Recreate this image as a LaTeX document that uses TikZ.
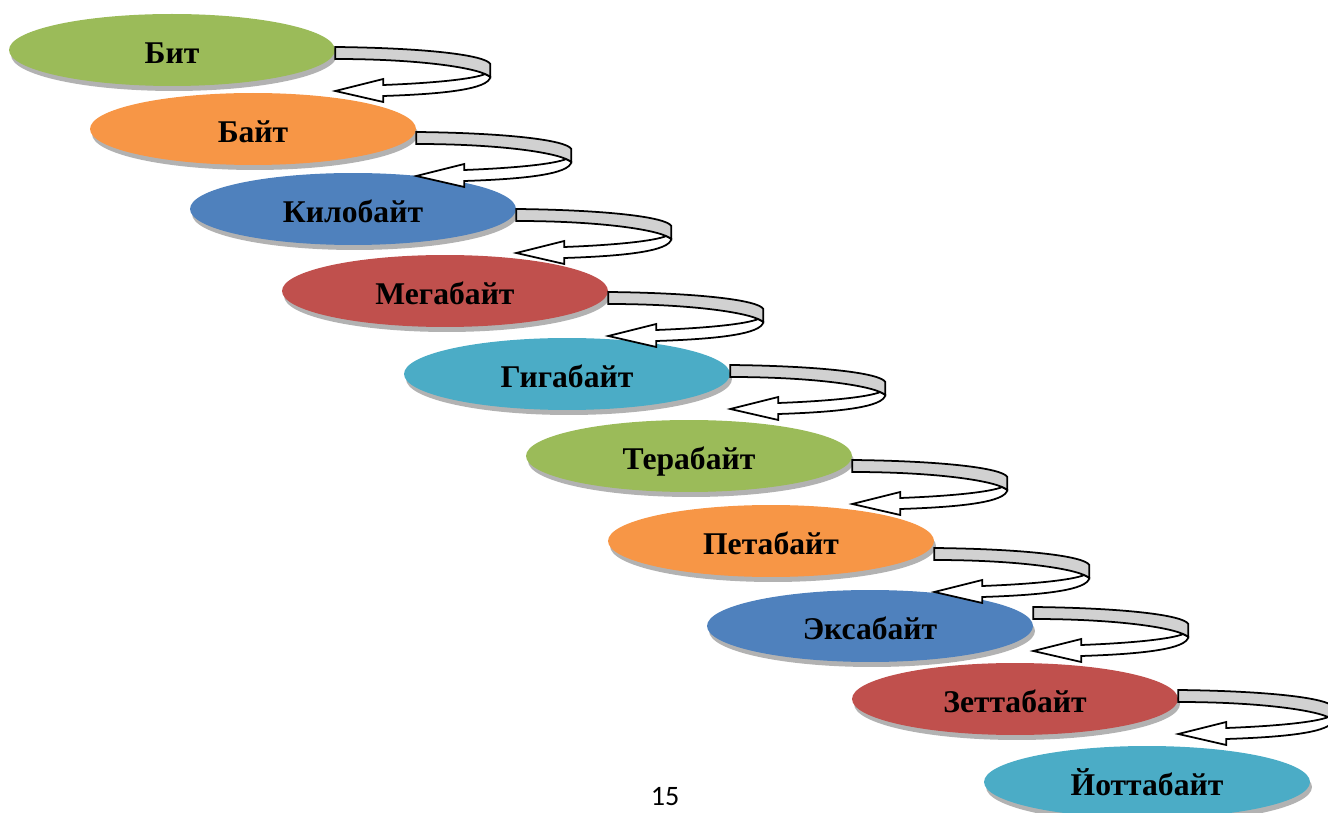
\documentclass[tikz,border=0pt]{standalone}
\usepackage{fontspec}
\setmainfont{Liberation Serif}
\newfontfamily\pagefont{Carlito}
\usepackage{tikz}
\usetikzlibrary{shapes.geometric}
\usetikzlibrary{shadows}
\usetikzlibrary{calc}

\definecolor{unitgreen}{HTML}{9BBB59}
\definecolor{unitorange}{HTML}{F79646}
\definecolor{unitblue}{HTML}{4F81BD}
\definecolor{unitred}{HTML}{C0504D}
\definecolor{unitaqua}{HTML}{4BACC6}

\tikzset{
  unit/.style={ellipse, minimum width=6.52cm, minimum height=1.44cm, inner sep=0pt,
    font=\fontsize{18}{20}\selectfont\bfseries, text height=0.58cm, text depth=0.04cm,
    drop shadow={shadow xshift=0.04cm, shadow yshift=-0.1cm, fill=black!60, opacity=0.5}},
  band/.style={draw=black, line width=1pt, fill=black!18},
  back/.style={draw=black, line width=1pt, fill=white},
}

% turning arrow at the right end of a unit, #2 moves it up (-) or down (+)
\newcommand{\turnarrow}[2]{%
  \begin{scope}[shift={($(#1.east)+(0,#2)$)}]
    \draw[back] (155,30) .. controls (153,42) and (110,47) .. (48,49) -- (48,55) -- (0,44)
      -- (48,32) -- (48,38) .. controls (100,36) and (138,32) .. (150,27) -- cycle;
    \draw[band] (0,0) .. controls (90,1) and (150,8) .. (155,17) -- (155,30)
      .. controls (145,21) and (85,12) .. (0,12) -- cycle;
  \end{scope}}

\begin{document}
\begin{tikzpicture}[x=0.02cm, y=-0.02cm]
  \useasboundingbox (0,0) rectangle (1328,813);

  \node[unit, fill=unitgreen] (bit) at (172,50) {Бит};
  \node[unit, fill=unitorange] (byte) at (253,129) {Байт};
  \node[unit, fill=unitblue] (kilo) at (353,209) {Килобайт};
  \node[unit, fill=unitred] (mega) at (445,291) {Мегабайт};
  \node[unit, fill=unitaqua] (giga) at (567,374) {Гигабайт};
  \node[unit, fill=unitgreen] (tera) at (689,456) {Терабайт};
  \node[unit, fill=unitorange] (peta) at (771,541) {Петабайт};
  \node[unit, fill=unitblue] (exa) at (870,626) {Эксабайт};
  \node[unit, fill=unitred] (zetta) at (1015,699) {Зеттабайт};
  \node[unit, fill=unitaqua] (yotta) at (1147,782) {Йоттабайт};

  \turnarrow{bit}{-3}
  \turnarrow{byte}{3}
  \turnarrow{kilo}{0}
  \turnarrow{mega}{1}
  \turnarrow{giga}{-9}
  \turnarrow{tera}{4}
  \turnarrow{peta}{7}
  \turnarrow{exa}{-19}
  \turnarrow{zetta}{-9}

  \node[font=\pagefont\fontsize{16}{18}\selectfont, inner sep=0pt, anchor=base] (page) at (665,805) {15};
\end{tikzpicture}
\end{document}
